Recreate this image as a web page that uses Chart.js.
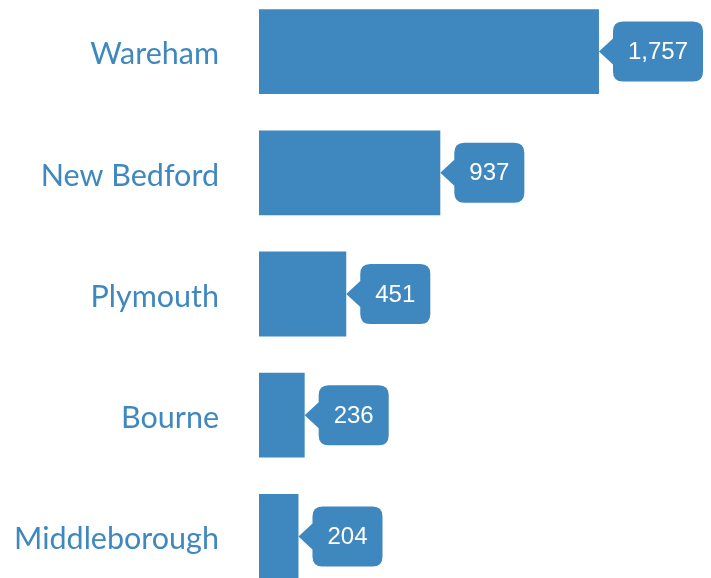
<!DOCTYPE html>
<html>
<head>
<meta charset="utf-8">
<script src="https://cdn.jsdelivr.net/npm/chart.js@4"></script>
<style>
  html, body { margin: 0; padding: 0; background: #fff; overflow: hidden; }
  #townChart { position: absolute; left: 0; top: -9px; }
</style>
</head>
<body>
<canvas id="townChart" width="711" height="606"></canvas>
<script>
// Data
const towns = ['Wareham', 'New Bedford', 'Plymouth', 'Bourne', 'Middleborough'];
const counts = [1757, 937, 451, 236, 204];

const barBlue = '#3f88bf';

// Draws the rounded value callout with a little arrow pointing at the bar end
const calloutPlugin = {
    id: 'callouts',
    afterDatasetsDraw(chart) {
        const c = chart.ctx;
        const meta = chart.getDatasetMeta(0);
        c.save();
        c.font = '24px "Liberation Sans", Arial, sans-serif';
        meta.data.forEach((bar, i) => {
            const txt = counts[i].toLocaleString('en-US');
            const tw = c.measureText(txt).width;
            const arrow = 14, padX = 15, h = 60, r = 10;
            const x0 = bar.x + arrow;
            const w = tw + padX * 2;
            const y0 = bar.y - h / 2;
            c.fillStyle = barBlue;
            c.beginPath();
            c.moveTo(x0 + r, y0);
            c.lineTo(x0 + w - r, y0);
            c.quadraticCurveTo(x0 + w, y0, x0 + w, y0 + r);
            c.lineTo(x0 + w, y0 + h - r);
            c.quadraticCurveTo(x0 + w, y0 + h, x0 + w - r, y0 + h);
            c.lineTo(x0 + r, y0 + h);
            c.quadraticCurveTo(x0, y0 + h, x0, y0 + h - r);
            c.lineTo(x0, bar.y + 13);
            c.lineTo(bar.x, bar.y);
            c.lineTo(x0, bar.y - 13);
            c.lineTo(x0, y0 + r);
            c.quadraticCurveTo(x0, y0, x0 + r, y0);
            c.closePath();
            c.fill();
            c.fillStyle = '#ffffff';
            c.textAlign = 'center';
            c.textBaseline = 'middle';
            c.fillText(txt, x0 + w / 2, bar.y + 1);
        });
        c.restore();
    }
};

const ctx = document.getElementById('townChart').getContext('2d');
const chart = new Chart(ctx, {
    type: 'bar',
    data: {
        labels: towns,
        datasets: [{
            data: counts,
            backgroundColor: barBlue,
            borderWidth: 0,
            barPercentage: 0.7,
            categoryPercentage: 1.0
        }]
    },
    options: {
        indexAxis: 'y',
        responsive: false,
        animation: false,
        layout: { padding: 0 },
        plugins: {
            legend: { display: false },
            tooltip: { enabled: false }
        },
        scales: {
            x: {
                display: false,
                min: 0,
                max: 2336
            },
            y: {
                grid: { display: false, drawTicks: false },
                border: { display: false },
                afterFit: s => {
                    s.width = 259;
                    s.paddingTop = 0;
                    s.paddingBottom = 0;
                },
                ticks: {
                    color: barBlue,
                    padding: 40,
                    labelOffset: 3,
                    font: { family: 'Lato', size: 30.5 }
                }
            }
        }
    },
    plugins: [calloutPlugin]
});
</script>
</body>
</html>
